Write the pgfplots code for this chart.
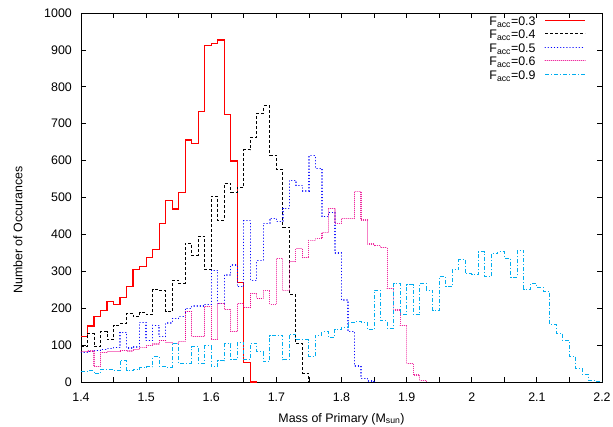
\documentclass[border=0pt]{standalone}
\usepackage{pgfplots}
\pgfplotsset{compat=1.18}
\usepackage{fontspec}
\setmainfont{Liberation Sans}
\begin{document}
\begin{tikzpicture}[font=\fontsize{12.4}{14}\selectfont]
\begin{axis}[
  at={(0pt,0pt)}, anchor=south west,
  scale only axis, width=521pt, height=369pt,
  xmin=1.4, xmax=2.2, ymin=0, ymax=1000,
  xtick={1.4,1.5,1.6,1.7,1.8,1.9,2,2.1,2.2},
  minor xtick={1.45,1.55,1.65,1.75,1.85,1.95,2.05,2.15},
  ytick={0,100,200,300,400,500,600,700,800,900,1000},
  tick align=inside,
  major tick length=5pt, minor tick length=5pt,
  every tick/.style={black, line width=0.8pt},
  axis line style={line width=0.9pt},
  /pgf/number format/assume math mode=true,
  /pgf/number format/1000 sep={},
  scaled ticks=false,
  xticklabel style={inner sep=0pt, anchor=north, yshift=-11pt},
  yticklabel style={inner sep=0pt, anchor=east, xshift=-9pt},
  xlabel={Mass of Primary (M\textsubscript{sun})},
  ylabel={Number of Occurances},
  xlabel style={at={(axis description cs:0.5,-0.1084)}, anchor=base, inner sep=0pt},
  ylabel style={at={(axis description cs:-0.1209,0.4119)}, anchor=center, inner sep=0pt},
  legend style={draw=none, fill=none, at={(axis description cs:0.9693,0.991)}, anchor=north east,
    inner sep=0pt, column sep=9pt, row sep=0pt,
    nodes={inner sep=0pt, text height=8.9pt, text depth=4.6pt}},
  legend cell align=right,
  legend plot pos=right,
  legend image code/.code={\draw[#1] (0pt,3pt) -- (40pt,3pt);},
]
\addplot[const plot, color=red, line width=1.2pt] coordinates {
(1.40,123)(1.41,152)(1.42,177)(1.43,193)(1.44,218)(1.45,210)(1.46,229)(1.47,258)
(1.48,305)(1.49,313)(1.50,337)(1.51,360)(1.52,430)(1.53,491)(1.54,469)(1.55,513)
(1.56,656)(1.57,647)(1.58,733)(1.59,913)(1.60,918)(1.61,927)(1.62,724)(1.63,599)
(1.64,270)(1.65,52)(1.66,0)(1.67,0)};
\addlegendentry{F\textsubscript{acc}=0.3}
\addplot[const plot, black, line width=1pt, dash pattern=on 3pt off 2pt] coordinates {
(1.40,95)(1.41,132)(1.42,96)(1.43,136)(1.44,114)(1.45,154)(1.46,159)(1.47,186)
(1.48,177)(1.49,188)(1.50,182)(1.51,250)(1.52,248)(1.53,191)(1.54,276)(1.55,267)
(1.56,376)(1.57,344)(1.58,395)(1.59,304)(1.60,504)(1.61,439)(1.62,538)(1.63,513)
(1.64,527)(1.65,629)(1.66,663)(1.67,728)(1.68,748)(1.69,615)(1.70,576)(1.71,420)
(1.72,237)(1.73,104)(1.74,24)(1.75,0)(1.76,0)};
\addlegendentry{F\textsubscript{acc}=0.4}
\addplot[const plot, blue, line width=1.3pt, line cap=round, dash pattern=on 0.1pt off 3pt] coordinates {
(1.40,80)(1.41,82)(1.42,86)(1.43,89)(1.44,91)(1.45,93)(1.46,135)(1.47,92)
(1.48,95)(1.49,162)(1.50,112)(1.51,154)(1.52,123)(1.53,160)(1.54,172)(1.55,177)
(1.56,200)(1.57,206)(1.58,206)(1.59,210)(1.60,303)(1.61,213)(1.62,290)(1.63,317)
(1.64,258)(1.65,437)(1.66,276)(1.67,329)(1.68,430)(1.69,444)(1.70,435)(1.71,471)
(1.72,547)(1.73,533)(1.74,518)(1.75,613)(1.76,579)(1.77,448)(1.78,460)(1.79,350)
(1.80,222)(1.81,137)(1.82,43)(1.83,10)(1.84,3)(1.85,0)};
\addlegendentry{F\textsubscript{acc}=0.5}
\addplot[const plot, magenta, line width=1.1pt, line cap=round, dash pattern=on 0.1pt off 1.9pt] coordinates {
(1.40,82)(1.41,84)(1.42,42)(1.43,80)(1.44,82)(1.45,82)(1.46,86)(1.47,84)
(1.48,89)(1.49,94)(1.50,98)(1.51,103)(1.52,112)(1.53,108)(1.54,105)(1.55,110)
(1.56,190)(1.57,124)(1.58,124)(1.59,205)(1.60,114)(1.61,213)(1.62,197)(1.63,136)
(1.64,212)(1.65,201)(1.66,240)(1.67,227)(1.68,249)(1.69,211)(1.70,335)(1.71,247)
(1.72,326)(1.73,361)(1.74,337)(1.75,384)(1.76,388)(1.77,405)(1.78,471)(1.79,430)
(1.80,443)(1.81,443)(1.82,516)(1.83,439)(1.84,374)(1.85,369)(1.86,364)(1.87,254)
(1.88,195)(1.89,154)(1.90,51)(1.91,19)(1.92,5)(1.93,0)};
\addlegendentry{F\textsubscript{acc}=0.6}
\addplot[const plot, cyan, line width=1pt, dash pattern=on 4pt off 2pt on 1pt off 2pt] coordinates {
(1.40,28)(1.41,30)(1.42,22)(1.43,34)(1.44,33)(1.45,31)(1.46,59)(1.47,30)
(1.48,33)(1.49,38)(1.50,41)(1.51,68)(1.52,43)(1.53,40)(1.54,105)(1.55,51)
(1.56,51)(1.57,96)(1.58,51)(1.59,98)(1.60,42)(1.61,58)(1.62,103)(1.63,60)
(1.64,107)(1.65,60)(1.66,105)(1.67,82)(1.68,55)(1.69,125)(1.70,127)(1.71,60)
(1.72,130)(1.73,114)(1.74,114)(1.75,69)(1.76,127)(1.77,136)(1.78,121)(1.79,143)
(1.80,148)(1.81,161)(1.82,164)(1.83,160)(1.84,141)(1.85,249)(1.86,166)(1.87,145)
(1.88,267)(1.89,182)(1.90,263)(1.91,182)(1.92,267)(1.93,249)(1.94,193)(1.95,285)
(1.96,258)(1.97,305)(1.98,332)(1.99,293)(2.00,290)(2.01,353)(2.02,285)(2.03,347)
(2.04,353)(2.05,335)(2.06,284)(2.07,356)(2.08,251)(2.09,267)(2.10,257)(2.11,245)
(2.12,157)(2.13,132)(2.14,112)(2.15,70)(2.16,37)(2.17,19)(2.18,5)(2.19,1)(2.20,1)};
\addlegendentry{F\textsubscript{acc}=0.9}
\end{axis}
\pgfresetboundingbox
\path[use as bounding box] (-81pt,-44pt) rectangle (532pt,382pt);
\end{tikzpicture}
\end{document}
